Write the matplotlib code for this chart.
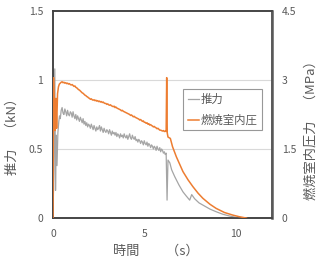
import matplotlib
matplotlib.use("Agg")
import matplotlib.pyplot as plt

plt.rcParams['font.family'] = ['Noto Sans CJK JP', 'DejaVu Sans']

# ---- Thrust (kN) ----
t_thrust_start = [0, 0.05, 0.1, 0.14, 0.18, 0.22, 0.27, 0.32, 0.36]
thrust_start = [0, 0.35, 1.08, 0.2, 0.6, 0.38, 0.62, 0.70, 0.74]
# burning phase, sampled every 0.05 s from 0.40 s to 6.20 s
thrust_burn = [0.72, 0.78, 0.80, 0.76, 0.75, 0.79, 0.77, 0.74, 0.78, 0.75,
               0.74, 0.77, 0.76, 0.73, 0.77, 0.74, 0.72, 0.75, 0.71, 0.74,
               0.72, 0.70, 0.73, 0.71, 0.69, 0.72, 0.68, 0.70, 0.67, 0.69,
               0.66, 0.68, 0.67, 0.65, 0.68, 0.66, 0.64, 0.67, 0.65, 0.63,
               0.66, 0.64, 0.65, 0.67, 0.63, 0.66, 0.64, 0.62, 0.65, 0.63,
               0.62, 0.64, 0.63, 0.61, 0.64, 0.62, 0.60, 0.63, 0.61, 0.62,
               0.60, 0.62, 0.59, 0.61, 0.60, 0.58, 0.61, 0.59, 0.60, 0.58,
               0.61, 0.59, 0.58, 0.60, 0.57, 0.59, 0.61, 0.58, 0.57, 0.60,
               0.58, 0.57, 0.59, 0.56, 0.57, 0.55, 0.57, 0.56, 0.54, 0.56,
               0.55, 0.53, 0.56, 0.54, 0.53, 0.55, 0.52, 0.54, 0.53, 0.51,
               0.53, 0.52, 0.50, 0.52, 0.51, 0.49, 0.52, 0.50, 0.49, 0.51,
               0.48, 0.50, 0.49, 0.47, 0.48, 0.46, 0.47]
t_thrust_tail = [6.25, 6.3, 6.4, 6.5, 6.67, 6.9, 7.12, 7.3, 7.49, 7.6, 7.76,
                 8.0, 8.21, 8.6, 8.94, 9.3, 9.67, 10.2]
thrust_tail = [0.13, 0.42, 0.40, 0.35, 0.30, 0.24, 0.19, 0.16, 0.13, 0.17, 0.14,
               0.11, 0.094, 0.065, 0.046, 0.028, 0.015, 0.0]

# ---- Chamber pressure (MPa) ----
t_press_start = [0, 0.03, 0.08, 0.12, 0.16, 0.2, 0.25, 0.3, 0.35]
press_start = [0, 3.05, 2.2, 1.9, 2.6, 1.95, 2.7, 2.85, 2.91]
# burning phase, sampled every 0.05 s from 0.40 s to 6.20 s
press_burn = [2.93, 2.95, 2.96, 2.94, 2.95, 2.93, 2.94, 2.92, 2.93, 2.91,
              2.92, 2.90, 2.89, 2.90, 2.88, 2.86, 2.87, 2.84, 2.83, 2.81,
              2.79, 2.78, 2.76, 2.74, 2.72, 2.71, 2.69, 2.67, 2.66, 2.64,
              2.63, 2.61, 2.60, 2.58, 2.59, 2.57, 2.56, 2.57, 2.55, 2.56,
              2.54, 2.55, 2.53, 2.54, 2.52, 2.53, 2.51, 2.52, 2.50, 2.49,
              2.49, 2.47, 2.48, 2.46, 2.45, 2.46, 2.44, 2.43, 2.42, 2.43,
              2.40, 2.41, 2.39, 2.38, 2.37, 2.36, 2.35, 2.33, 2.34, 2.32,
              2.31, 2.30, 2.29, 2.28, 2.27, 2.26, 2.25, 2.23, 2.24, 2.22,
              2.20, 2.21, 2.19, 2.18, 2.17, 2.16, 2.15, 2.13, 2.14, 2.12,
              2.10, 2.11, 2.08, 2.08, 2.06, 2.07, 2.04, 2.05, 2.02, 2.03,
              2.01, 2.00, 1.98, 1.99, 1.97, 1.96, 1.94, 1.95, 1.93, 1.91,
              1.91, 1.90, 1.89, 1.90, 1.88, 1.89, 1.88]
t_press_tail = [6.23, 6.26, 6.3, 6.43, 6.55, 6.76, 6.95, 7.12, 7.4, 7.67, 7.95,
                8.21, 8.6, 8.94, 9.4, 9.85, 10.2, 10.6]
press_tail = [3.05, 1.85, 1.76, 1.73, 1.55, 1.33, 1.16, 1.01, 0.83, 0.68, 0.54,
              0.43, 0.30, 0.21, 0.12, 0.065, 0.03, 0.0]

t_burn = [round(0.40 + 0.05 * i, 2) for i in range(len(thrust_burn))]
t_thrust = t_thrust_start + t_burn + t_thrust_tail
thrust = thrust_start + thrust_burn + thrust_tail
t_press = t_press_start + t_burn + t_press_tail
pressure = press_start + press_burn + press_tail

left_ticks = [0, 0.5, 1, 1.5]
left_ticklabels = ["0", "0.5", "1", "1.5"]
right_ticks = [0, 1.5, 3, 4.5]
right_ticklabels = ["0", "1.5", "3", "4.5"]
x_ticks = [0, 5, 10]
x_ticklabels = ["0", "5", "10"]

txt = '#595959'
frame = '#404040'

fig = plt.figure(figsize=(3.25, 2.59), dpi=100)
ax = fig.add_axes([0.163, 0.158, 0.674, 0.800])
ax2 = ax.twinx()

ax.set_xlim(0, 12)
ax.set_ylim(0, 1.5)
ax2.set_ylim(0, 4.5)

for y in [0.5, 1.0]:
    ax.axhline(y, color='#D9D9D9', lw=0.8, zorder=0)

l1, = ax.plot(t_thrust, thrust, color='#A5A5A5', lw=0.9, label='推力', zorder=3)
l2, = ax2.plot(t_press, pressure, color='#ED7D31', lw=1.1, label='燃焼室内圧', zorder=3)

ax.set_xticks(x_ticks)
ax.set_xticklabels(x_ticklabels)
ax.set_yticks(left_ticks)
ax.set_yticklabels(left_ticklabels)
ax2.set_yticks(right_ticks)
ax2.set_yticklabels(right_ticklabels)

ax.tick_params(axis='both', length=0, labelsize=7.5, labelcolor=txt)
ax.tick_params(axis='y', pad=7)
ax.tick_params(axis='x', pad=8)
ax2.tick_params(axis='y', length=0, labelsize=7.5, labelcolor=txt, pad=7)

for a in (ax, ax2):
    for s in a.spines.values():
        s.set_color(frame)
        s.set_linewidth(1.1)
ax2.spines['right'].set_linewidth(1.8)
ax2.spines['right'].set_color('#595959')

fig.text(0.037, 0.486, '推力　（kN）', rotation=90, ha='center', va='center',
         fontsize=9.5, color=txt)
fig.text(0.957, 0.51, '燃焼室内圧力　（MPa）', rotation=90, ha='center', va='center',
         fontsize=9.5, color=txt)
fig.text(0.48, 0.031, '時間　　（s）', ha='center', va='center', fontsize=9.5, color=txt)

leg = ax2.legend([l1, l2], ['推力', '燃焼室内圧'], loc='upper left',
                 bbox_to_anchor=(0.594, 0.623), fontsize=8.2, frameon=True,
                 fancybox=False, edgecolor='#7F7F7F', handlelength=1.0,
                 handletextpad=0.15, labelspacing=0.85, borderpad=0.4,
                 borderaxespad=0)
leg.get_frame().set_linewidth(0.8)
for t in leg.get_texts():
    t.set_color(txt)

fig.savefig('out.png', dpi=100)
